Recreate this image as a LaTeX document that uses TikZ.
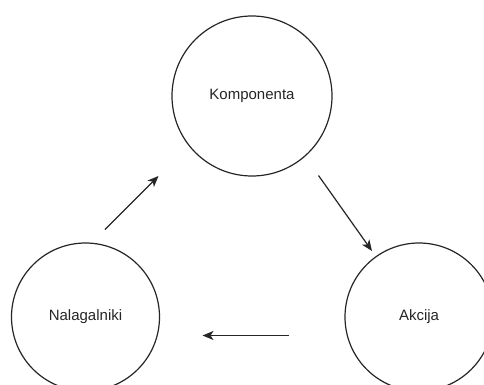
\documentclass[tikz,border=0pt]{standalone}
\usepackage{fontspec}
\setmainfont{Liberation Sans}
\usetikzlibrary{arrows.meta}
\begin{document}
\begin{tikzpicture}[x=1pt,y=-1pt,
  state/.style={draw=black!85, line width=1.2pt, circle, inner sep=0pt, font=\fontsize{15}{18}\selectfont, text=black!85},
  flow/.style={draw=black!85, line width=1.2pt, -{Stealth[length=11pt,width=9pt,inset=3pt]}}]
\useasboundingbox (0,0) rectangle (484,385);
\fill[white] (0,0) rectangle (484,385);
\node[state, minimum size=160pt] (komp) at (252,96) {Komponenta};
\node[state, minimum size=148pt] (nal) at (85.5,317) {Nalagalniki};
\node[state, minimum size=148pt] (akc) at (419,317) {Akcija};
\coordinate (a1s) at (105,229.5);
\coordinate (a1e) at (158.5,176);
\coordinate (a2s) at (318.5,175.5);
\coordinate (a2e) at (372,251);
\coordinate (a3s) at (288.5,335.5);
\coordinate (a3e) at (202.5,335.5);
\draw[flow] (a1s) -- (a1e);
\draw[flow] (a2s) -- (a2e);
\draw[flow] (a3s) -- (a3e);
\end{tikzpicture}
\end{document}
